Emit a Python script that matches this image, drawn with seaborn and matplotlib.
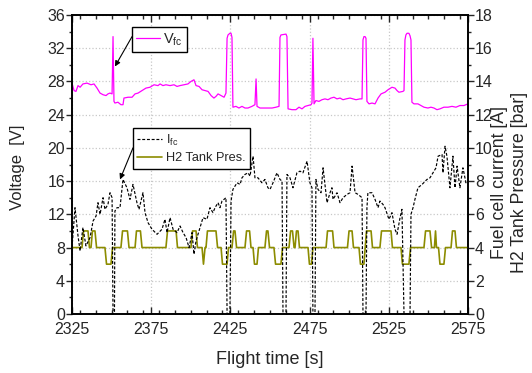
import numpy as np
import pandas as pd
import matplotlib
matplotlib.use("Agg")
import matplotlib.pyplot as plt
from matplotlib.ticker import MultipleLocator
import seaborn as sns

# ---------------- data ----------------
t_vfc = [2325.0, 2326.3, 2327.5, 2328.8, 2330.1, 2331.9, 2334.5, 2337.0, 2338.9, 2340.8,
         2342.7, 2344.6, 2346.5, 2347.7, 2349.0, 2350.3, 2350.9, 2351.5, 2352.1, 2354.0,
         2355.9, 2357.2, 2357.8, 2360.4, 2362.9, 2364.8, 2366.7, 2369.2, 2371.7, 2374.2,
         2376.8, 2379.3, 2380.6, 2382.4, 2384.3, 2386.9, 2389.4, 2391.3, 2393.2, 2395.7,
         2398.2, 2400.1, 2402.0, 2403.3, 2405.2, 2407.1, 2409.0, 2410.9, 2412.8, 2414.6,
         2415.9, 2417.2, 2419.1, 2421.0, 2422.2, 2422.9, 2423.5, 2424.7, 2425.4, 2426.0,
         2426.6, 2428.5, 2430.4, 2432.3, 2434.2, 2436.1, 2438.6, 2440.5, 2441.2, 2441.8,
         2443.7, 2446.2, 2448.7, 2451.3, 2453.8, 2455.7, 2456.3, 2456.9, 2460.1, 2460.7,
         2461.4, 2463.9, 2466.4, 2468.3, 2470.2, 2472.1, 2474.0, 2475.9, 2476.5, 2477.1,
         2477.8, 2479.0, 2480.9, 2482.8, 2484.7, 2486.6, 2488.5, 2490.4, 2492.3, 2494.2,
         2496.1, 2498.0, 2500.5, 2502.4, 2504.3, 2506.8, 2508.1, 2508.7, 2509.3, 2510.0,
         2510.6, 2511.2, 2512.5, 2514.4, 2516.3, 2518.2, 2520.1, 2522.6, 2524.5, 2527.0,
         2528.9, 2530.2, 2531.4, 2533.9, 2534.6, 2535.2, 2535.8, 2536.5, 2537.7, 2538.4,
         2539.0, 2539.6, 2540.9, 2543.4, 2545.3, 2547.2, 2549.7, 2551.6, 2553.5, 2555.4,
         2557.3, 2559.8, 2562.4, 2564.9, 2567.4, 2569.9, 2572.4, 2575.0]
vfc = [27.8, 26.9, 26.8, 27.5, 27.3, 27.7, 27.8, 27.6, 27.7, 27.2,
       26.6, 26.4, 26.3, 26.5, 26.6, 26.5, 33.4, 25.6, 25.4, 25.5,
       25.2, 25.2, 26.0, 26.1, 26.1, 26.5, 26.6, 26.9, 27.2, 27.3,
       27.6, 27.5, 27.7, 27.5, 27.6, 27.5, 27.6, 27.4, 27.5, 27.6,
       27.7, 28.0, 28.2, 27.5, 27.4, 27.0, 26.9, 26.8, 26.3, 26.0,
       26.2, 26.5, 26.3, 26.1, 26.6, 33.2, 33.6, 33.8, 33.8, 33.3,
       24.9, 25.0, 24.8, 25.0, 24.8, 24.8, 25.0, 25.2, 28.3, 25.0,
       24.8, 24.8, 24.8, 24.8, 24.9, 25.0, 33.3, 33.6, 33.7, 33.4,
       24.7, 24.6, 24.6, 24.9, 24.7, 25.0, 25.1, 25.2, 25.4, 33.2,
       25.3, 25.7, 25.6, 25.8, 25.9, 25.8, 26.0, 26.1, 25.9, 26.0,
       25.8, 25.9, 26.0, 25.9, 25.8, 25.9, 25.9, 33.0, 33.4, 33.4,
       33.2, 25.6, 25.3, 25.4, 25.3, 26.0, 26.5, 26.7, 27.0, 27.3,
       27.2, 26.9, 26.7, 26.8, 26.9, 33.0, 33.6, 33.8, 33.8, 33.5,
       33.0, 25.5, 25.3, 25.3, 25.1, 24.9, 24.8, 24.9, 24.8, 24.6,
       24.7, 24.9, 24.9, 25.0, 24.9, 25.1, 25.1, 25.3]

t_ifc = [2325.0, 2326.9, 2328.8, 2330.1, 2331.9, 2333.8, 2336.4, 2338.3, 2340.2, 2341.4,
         2342.7, 2344.6, 2345.8, 2347.7, 2349.0, 2350.3, 2350.9, 2351.8, 2352.1, 2353.4,
         2355.3, 2357.2, 2359.7, 2361.6, 2363.5, 2366.0, 2367.3, 2369.8, 2371.1, 2373.0,
         2375.5, 2378.7, 2381.8, 2383.7, 2385.0, 2386.9, 2388.8, 2391.3, 2393.2, 2395.1,
         2397.0, 2398.9, 2400.8, 2402.0, 2403.3, 2405.8, 2407.7, 2410.2, 2412.1, 2414.0,
         2415.3, 2417.2, 2418.4, 2419.7, 2422.2, 2422.9, 2424.7, 2425.4, 2426.6, 2429.2,
         2431.1, 2432.3, 2434.2, 2436.1, 2437.4, 2439.3, 2440.5, 2442.4, 2444.9, 2446.8,
         2448.7, 2450.0, 2451.9, 2454.4, 2456.3, 2457.6, 2458.2, 2460.1, 2460.7, 2462.6,
         2464.5, 2467.0, 2468.9, 2470.8, 2473.4, 2475.2, 2476.5, 2477.1, 2478.4, 2479.0,
         2480.3, 2482.2, 2483.5, 2486.0, 2487.9, 2489.1, 2489.8, 2492.3, 2494.2, 2496.1,
         2498.6, 2500.5, 2501.8, 2503.7, 2505.6, 2508.1, 2508.7, 2510.6, 2511.2, 2511.8,
         2514.4, 2516.3, 2518.2, 2519.4, 2521.3, 2522.6, 2525.1, 2527.0, 2528.9, 2530.2,
         2532.1, 2533.3, 2534.6, 2538.4, 2539.0, 2540.3, 2541.5, 2543.4, 2546.0, 2549.1,
         2551.0, 2552.9, 2554.8, 2556.1, 2558.6, 2559.2, 2560.5, 2561.7, 2563.6, 2565.5,
         2566.8, 2568.1, 2569.9, 2571.8, 2573.7, 2575.0]
ifc = [4.0, 6.4, 4.7, 3.8, 5.2, 4.1, 4.6, 5.6, 5.9, 6.7,
       6.0, 7.0, 6.3, 6.6, 7.3, 7.0, 0.0, 0.0, 6.2, 6.4,
       6.4, 8.1, 7.6, 6.9, 7.8, 6.7, 6.3, 7.3, 6.1, 5.5,
       5.1, 4.8, 5.1, 5.7, 4.9, 5.8, 5.1, 4.9, 5.3, 4.9,
       4.6, 4.0, 4.9, 3.6, 4.4, 5.2, 5.8, 5.7, 6.4, 6.1,
       6.4, 6.7, 6.4, 6.8, 7.0, 0.0, 0.0, 6.8, 7.5, 7.9,
       7.8, 8.2, 8.4, 8.5, 8.3, 9.5, 8.2, 8.2, 7.9, 8.1,
       7.6, 7.5, 7.9, 8.5, 8.1, 8.0, 0.0, 0.0, 8.4, 8.2,
       7.6, 8.5, 8.6, 8.5, 9.2, 7.9, 7.6, 0.0, 0.0, 8.1,
       7.5, 7.3, 8.8, 6.7, 7.3, 7.6, 6.9, 7.3, 6.7, 7.0,
       7.2, 7.3, 8.9, 7.3, 7.2, 7.0, 0.0, 0.0, 6.4, 7.3,
       7.3, 6.9, 6.4, 6.8, 6.6, 6.4, 5.7, 6.1, 5.1, 4.8,
       5.8, 6.3, 0.0, 0.0, 6.0, 6.4, 6.9, 7.6, 7.8, 8.1,
       8.2, 8.5, 8.8, 9.5, 9.6, 8.5, 10.1, 9.5, 7.6, 9.5,
       7.6, 8.9, 7.6, 8.8, 7.9, 8.0]

t_h2 = [2325.0, 2331.3, 2332.3, 2335.1, 2336.0, 2337.0, 2337.9, 2339.5, 2340.5, 2345.8,
        2346.8, 2349.6, 2350.6, 2355.9, 2356.9, 2360.0, 2361.0, 2364.8, 2365.7, 2368.2,
        2369.2, 2384.3, 2385.3, 2390.7, 2391.6, 2400.1, 2401.1, 2403.3, 2404.2, 2407.1,
        2408.0, 2409.0, 2409.6, 2410.5, 2415.9, 2416.9, 2419.1, 2420.0, 2422.9, 2423.8,
        2426.0, 2427.0, 2427.9, 2428.9, 2434.2, 2435.2, 2437.1, 2438.0, 2439.3, 2440.2,
        2441.8, 2442.7, 2446.8, 2447.8, 2448.7, 2449.7, 2452.5, 2453.5, 2456.9, 2457.9,
        2462.0, 2463.0, 2464.2, 2465.2, 2465.8, 2466.7, 2467.7, 2468.6, 2474.0, 2474.9,
        2476.2, 2477.1, 2485.4, 2486.3, 2489.5, 2490.4, 2498.9, 2499.9, 2501.8, 2502.7,
        2506.2, 2507.1, 2509.3, 2510.9, 2513.8, 2514.7, 2519.4, 2520.4, 2526.4, 2527.3,
        2532.7, 2533.6, 2537.7, 2538.7, 2547.2, 2548.2, 2551.0, 2552.0, 2553.8, 2554.5,
        2555.1, 2556.4, 2557.3, 2559.8, 2560.8, 2564.3, 2565.2, 2566.8, 2567.7, 2575.0]
h2 = [4, 4, 5, 5, 4, 4, 5, 5, 4, 4,
      3, 3, 4, 4, 5, 5, 4, 4, 5, 5,
      4, 4, 5, 5, 4, 4, 5, 5, 4, 4,
      3, 4, 4, 5, 5, 4, 4, 3, 3, 4,
      4, 5, 5, 4, 4, 5, 5, 4, 4, 3,
      3, 4, 4, 5, 5, 4, 4, 3, 3, 4,
      4, 5, 5, 4, 4, 5, 5, 4, 4, 3,
      3, 4, 4, 5, 5, 4, 4, 5, 5, 4,
      4, 3, 3, 5, 5, 4, 4, 5, 5, 4,
      4, 3, 3, 4, 4, 5, 5, 4, 4, 5,
      4, 4, 3, 3, 4, 4, 5, 5, 4, 4]

x_ticks = [2325, 2375, 2425, 2475, 2525, 2575]

# ---------------- style ----------------
sns.set_style("ticks")
plt.rcParams["font.family"] = ["Liberation Sans", "DejaVu Sans"]
plt.rcParams["axes.linewidth"] = 1.2

fig = plt.figure(figsize=(5.32, 3.73), dpi=100)
ax = fig.add_axes([72 / 532, 1 - 314 / 373, (468 - 72) / 532, (314 - 15) / 373])
ax2 = ax.twinx()

df_v = pd.DataFrame({"t": t_vfc, "v": vfc})
df_i = pd.DataFrame({"t": t_ifc, "i": ifc})
df_p = pd.DataFrame({"t": t_h2, "p": h2})

sns.lineplot(data=df_v, x="t", y="v", ax=ax, color="#ff00ff", lw=0.9,
             estimator=None, sort=False, legend=False)
sns.lineplot(data=df_p, x="t", y="p", ax=ax2, color="#8c8c00", lw=1.2,
             estimator=None, sort=False, legend=False)
sns.lineplot(data=df_i, x="t", y="i", ax=ax2, color="black", lw=0.85,
             estimator=None, sort=False, legend=False, linestyle=(0, (2.5, 1.5)))

# axes limits & ticks
ax.set_xlim(2325, 2575)
ax.set_ylim(0, 36)
ax2.set_ylim(0, 18)
ax.set_xticks(x_ticks)
ax.xaxis.set_minor_locator(MultipleLocator(10))
ax.yaxis.set_major_locator(MultipleLocator(4))
ax.yaxis.set_minor_locator(MultipleLocator(2))
ax2.yaxis.set_major_locator(MultipleLocator(2))
ax2.yaxis.set_minor_locator(MultipleLocator(1))

ax.tick_params(axis="x", which="both", direction="in", top=True, labelsize=11.5,
               width=1.0, pad=6)
ax.tick_params(axis="x", which="major", length=5)
ax.tick_params(axis="x", which="minor", length=3)
ax.tick_params(axis="y", which="both", direction="out", labelsize=11.5, width=1.0, pad=1)
ax.tick_params(axis="y", which="major", length=4)
ax.tick_params(axis="y", which="minor", length=2)
ax2.tick_params(axis="y", which="both", direction="out", labelsize=11.5, width=1.0, pad=1)
ax2.tick_params(axis="y", which="major", length=4)
ax2.tick_params(axis="y", which="minor", length=2)

ax.grid(True, which="major", color="#c8c8c8", linestyle=":", linewidth=0.9)
ax.set_axisbelow(True)

for a in (ax, ax2):
    for s in a.spines.values():
        s.set_visible(True)
        s.set_color("black")
        s.set_linewidth(1.2)

ax.set_xlabel("Flight time [s]", fontsize=13, labelpad=10)
ax.set_ylabel("Voltage  [V]", fontsize=12, labelpad=0)
ax.yaxis.set_label_coords(-47 / 396, 0.49)
ax2.set_ylabel("Fuel cell current [A]\nH2 Tank Pressure [bar]", fontsize=12.8,
               linespacing=1.2)
ax2.yaxis.set_label_coords(1 + 23 / 396, 0.44)

# legends
h_v = ax.lines[0]
h_p, h_i = ax2.lines[0], ax2.lines[1]
leg1 = fig.legend([h_v], ["V$_{\\mathregular{fc}}$"], loc="upper left",
                  bbox_to_anchor=(132 / 532, 1 - 27 / 373), bbox_transform=fig.transFigure,
                  fontsize=10.5, frameon=True, fancybox=False, edgecolor="black",
                  framealpha=1, borderaxespad=0, handlelength=1.6, borderpad=0.3,
                  handletextpad=0.25)
leg1.get_frame().set_linewidth(1.0)
leg2 = fig.legend([h_i, h_p], ["I$_{\\mathregular{fc}}$", "H2 Tank Pres."], loc="upper left",
                  bbox_to_anchor=(133 / 532, 1 - 128 / 373), bbox_transform=fig.transFigure,
                  fontsize=9.2, frameon=True, fancybox=False, edgecolor="black",
                  framealpha=1, borderaxespad=0, handlelength=1.95, borderpad=0.35,
                  handletextpad=0.3, labelspacing=0.35)
leg2.get_frame().set_linewidth(1.0)

# arrows from legends to curves
ax.annotate("", xy=(2352.1, 29.8), xytext=(2362.9, 33.4),
            arrowprops=dict(arrowstyle="-|>", color="black", lw=0.8,
                            mutation_scale=8, shrinkA=0, shrinkB=0))
ax.annotate("", xy=(2355.3, 16.2), xytext=(2363.5, 20.0),
            arrowprops=dict(arrowstyle="-|>", color="black", lw=0.8,
                            mutation_scale=8, shrinkA=0, shrinkB=0))

fig.savefig("out.png", dpi=100)
